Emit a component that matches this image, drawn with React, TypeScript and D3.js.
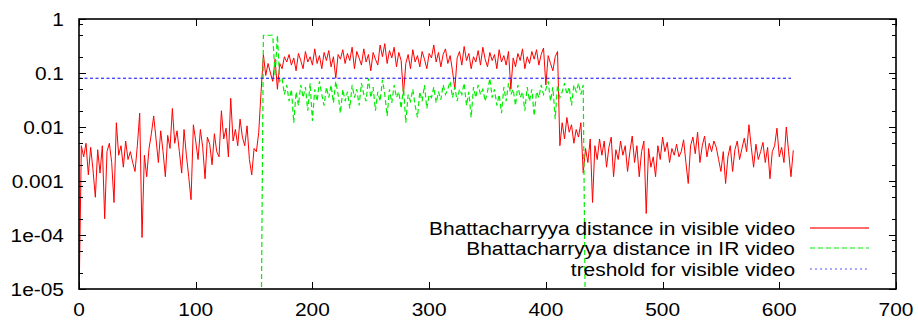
import React, { useEffect, useRef } from "react";
import * as d3 from "d3";

// Bhattacharyya distance per frame (sampled every 2 frames)
const redStep = 2;
const redValues = [
  0.000005, 0.0045, 0.0028, 0.005, 0.0013, 0.0042, 0.0016, 0.0005, 0.0038, 0.0014,
  0.0045, 0.0002, 0.0035, 0.005, 0.0022, 0.0004, 0.012, 0.003, 0.0045, 0.0018,
  0.0055, 0.0025, 0.0035, 0.0022, 0.0015, 0.0045, 0.018, 0.00009, 0.003, 0.0012,
  0.004, 0.0075, 0.016, 0.006, 0.0022, 0.0085, 0.0035, 0.0012, 0.007, 0.004,
  0.022, 0.005, 0.0085, 0.0035, 0.0014, 0.009, 0.003, 0.0012, 0.00045, 0.011,
  0.0055, 0.0025, 0.009, 0.0042, 0.0011, 0.0065, 0.0048, 0.002, 0.0075, 0.0035,
  0.0028, 0.02, 0.006, 0.0095, 0.0028, 0.034, 0.0055, 0.009, 0.0045, 0.014,
  0.0065, 0.0045, 0.0105, 0.0025, 0.0013, 0.004, 0.0035, 0.008, 0.045, 0.22,
  0.09, 0.15, 0.1, 0.07, 0.18, 0.05, 0.15, 0.12, 0.2, 0.16,
  0.22, 0.14, 0.19, 0.11, 0.23, 0.17, 0.12, 0.25, 0.16, 0.2,
  0.14, 0.28, 0.15, 0.21, 0.12, 0.24, 0.17, 0.26, 0.13, 0.2,
  0.08, 0.22, 0.18, 0.27, 0.15, 0.23, 0.17, 0.3, 0.12, 0.25,
  0.19, 0.14, 0.28, 0.16, 0.22, 0.11, 0.24, 0.18, 0.14, 0.33,
  0.2, 0.35, 0.15, 0.26, 0.19, 0.3, 0.13, 0.24, 0.17, 0.04,
  0.15, 0.22, 0.12, 0.27, 0.16, 0.21, 0.13, 0.25, 0.18, 0.12,
  0.23, 0.19, 0.33, 0.16, 0.24, 0.13, 0.22, 0.28, 0.15, 0.21,
  0.11, 0.05, 0.19, 0.25, 0.14, 0.31, 0.17, 0.23, 0.12, 0.2,
  0.16, 0.26, 0.14, 0.3, 0.18, 0.13, 0.24, 0.17, 0.22, 0.12,
  0.27, 0.16, 0.21, 0.14, 0.25, 0.05, 0.19, 0.13, 0.23, 0.17,
  0.28, 0.12, 0.2, 0.15, 0.25, 0.18, 0.27, 0.14, 0.22, 0.29,
  0.06, 0.21, 0.15, 0.11, 0.2, 0.25, 0.0045, 0.012, 0.006, 0.015,
  0.008, 0.011, 0.005, 0.009, 0.0065, 0.012, 0.0014, 0.004, 0.0022, 0.006,
  0.0004, 0.0045, 0.0025, 0.006, 0.003, 0.0055, 0.0018, 0.0042, 0.0065, 0.0012,
  0.0038, 0.0025, 0.0055, 0.003, 0.0045, 0.0015, 0.0035, 0.0068, 0.0022, 0.0045,
  0.0012, 0.0035, 0.0055, 0.00025, 0.004, 0.0018, 0.0028, 0.0012, 0.0045, 0.0025,
  0.0065, 0.0035, 0.0052, 0.0022, 0.004, 0.003, 0.0048, 0.0028, 0.0035, 0.0058,
  0.0022, 0.0009, 0.0045, 0.0065, 0.0032, 0.008, 0.0022, 0.0045, 0.0068, 0.0028,
  0.005, 0.0035, 0.0055, 0.0042, 0.0025, 0.0015, 0.0035, 0.0009, 0.0028, 0.0045,
  0.0015, 0.0038, 0.0055, 0.0025, 0.004, 0.0062, 0.0035, 0.011, 0.0042, 0.0018,
  0.0048, 0.0025, 0.0035, 0.0052, 0.0022, 0.0042, 0.0011, 0.0035, 0.0045, 0.0095,
  0.0028, 0.0042, 0.0022, 0.01, 0.0035, 0.0012, 0.0037,
];

// IR video, starts at frame 156
const greenStart = 156;
const greenStep = 2;
const greenValues = [
  0.000001, 0.5, 0.5, 0.5, 0.5, 0.5, 0.09, 0.5, 0.07, 0.08,
  0.04, 0.06, 0.03, 0.05, 0.012, 0.045, 0.025, 0.06, 0.035, 0.055,
  0.02, 0.065, 0.013, 0.05, 0.03, 0.07, 0.04, 0.025, 0.055, 0.035,
  0.06, 0.028, 0.07, 0.04, 0.018, 0.05, 0.03, 0.045, 0.022, 0.06,
  0.035, 0.05, 0.025, 0.065, 0.04, 0.03, 0.08, 0.035, 0.055, 0.02,
  0.045, 0.03, 0.075, 0.04, 0.016, 0.05, 0.028, 0.06, 0.035, 0.045,
  0.022, 0.055, 0.012, 0.04, 0.03, 0.05, 0.025, 0.015, 0.045, 0.03,
  0.06, 0.022, 0.04, 0.035, 0.055, 0.028, 0.045, 0.032, 0.06, 0.04,
  0.05, 0.07, 0.035, 0.055, 0.03, 0.05, 0.04, 0.065, 0.025, 0.045,
  0.015, 0.055, 0.035, 0.06, 0.04, 0.05, 0.03, 0.045, 0.08, 0.035,
  0.05, 0.025, 0.04, 0.018, 0.055, 0.03, 0.065, 0.04, 0.05, 0.025,
  0.06, 0.035, 0.045, 0.02, 0.055, 0.03, 0.05, 0.016, 0.045, 0.035,
  0.06, 0.04, 0.05, 0.07, 0.03, 0.055, 0.014, 0.06, 0.035, 0.045,
  0.065, 0.04, 0.055, 0.025, 0.06, 0.045, 0.065, 0.04, 0.06, 0.000001,
];

const thresholdValue = 0.08;
const thresholdFrames = [0, 610];

const xTicks = [0, 100, 200, 300, 400, 500, 600, 700];
const yTicks = [1, 0.1, 0.01, 0.001, 1e-4, 1e-5];
const yTickLabels = ["1", "0.1", "0.01", "0.001", "1e-04", "1e-05"];
const minorFactors = [2, 5, 8];

const legendLabels = [
  "Bhattacharryya distance in visible video",
  "Bhattacharryya distance in IR video",
  "treshold for visible video",
];

const colors = { red: "#ff0000", green: "#00ee00", blue: "#0000ff" };
const FONT = "'Liberation Sans', Arial, Helvetica, sans-serif";

export default function App() {
  const svgRef = useRef<SVGSVGElement | null>(null);

  useEffect(() => {
    if (!svgRef.current) return;
    const W = 918,
      H = 320;
    const left = 79,
      right = 896,
      top = 19,
      bottom = 289;

    const svg = d3.select(svgRef.current);
    svg.selectAll("*").remove();
    svg.attr("width", W).attr("height", H);

    const x = d3.scaleLinear().domain([0, 700]).range([left, right]);
    const y = d3.scaleLog().domain([1e-5, 1]).range([bottom, top]);

    svg
      .append("defs")
      .append("clipPath")
      .attr("id", "plot-clip")
      .append("rect")
      .attr("x", left)
      .attr("y", top)
      .attr("width", right - left)
      .attr("height", bottom - top);

    const line = d3
      .line<[number, number]>()
      .x((d) => x(d[0]))
      .y((d) => y(d[1]));

    const redData: [number, number][] = redValues.map((v, i) => [i * redStep, v]);
    const greenData: [number, number][] = greenValues.map((v, i) => [
      greenStart + i * greenStep,
      v,
    ]);
    const blueData: [number, number][] = thresholdFrames.map((f) => [f, thresholdValue]);

    const plot = svg.append("g").attr("clip-path", "url(#plot-clip)");

    plot
      .append("path")
      .attr("d", line(redData))
      .attr("fill", "none")
      .attr("stroke", colors.red)
      .attr("stroke-width", 1);

    plot
      .append("path")
      .attr("d", line(greenData))
      .attr("fill", "none")
      .attr("stroke", colors.green)
      .attr("stroke-width", 1.2)
      .attr("stroke-dasharray", "5,3");

    plot
      .append("path")
      .attr("d", line(blueData))
      .attr("fill", "none")
      .attr("stroke", colors.blue)
      .attr("stroke-width", 1)
      .attr("stroke-dasharray", "3,2.5");

    // ticks (gnuplot style, inward and mirrored)
    const axes = svg.append("g").attr("stroke", "#000").attr("stroke-width", 1);
    xTicks.forEach((t) => {
      const px = Math.round(x(t)) + 0.5;
      axes.append("line").attr("x1", px).attr("x2", px).attr("y1", bottom).attr("y2", bottom - 7);
      axes.append("line").attr("x1", px).attr("x2", px).attr("y1", top).attr("y2", top + 7);
    });
    yTicks.forEach((t) => {
      const py = Math.round(y(t)) + 0.5;
      axes.append("line").attr("x1", left).attr("x2", left + 7).attr("y1", py).attr("y2", py);
      axes.append("line").attr("x1", right).attr("x2", right - 7).attr("y1", py).attr("y2", py);
    });
    yTicks.slice(1).forEach((t) => {
      minorFactors.forEach((m) => {
        const py = Math.round(y(t * m)) + 0.5;
        axes.append("line").attr("x1", left).attr("x2", left + 4).attr("y1", py).attr("y2", py);
        axes.append("line").attr("x1", right).attr("x2", right - 4).attr("y1", py).attr("y2", py);
      });
    });

    svg
      .append("rect")
      .attr("x", left)
      .attr("y", top)
      .attr("width", right - left)
      .attr("height", bottom - top)
      .attr("fill", "none")
      .attr("stroke", "#000")
      .attr("stroke-width", 1.6);

    const addText = (tx: number, ty: number, str: string, anchor: string) =>
      svg
        .append("text")
        .attr("transform", `translate(${tx},${ty}) scale(1.1,1)`)
        .attr("text-anchor", anchor)
        .attr("font-family", FONT)
        .attr("font-size", 19)
        .attr("fill", "#000")
        .text(str);

    xTicks.forEach((t) => addText(x(t), 316, String(t), "middle"));
    yTicks.forEach((t, i) => addText(64, y(t) + 7, yTickLabels[i], "end"));

    // legend
    const legendRows = [228, 248, 269];
    const legendStyles = [
      { stroke: "#ff6a6a", width: 2, dash: null },
      { stroke: colors.green, width: 1.2, dash: "5,3" },
      { stroke: "#5555ff", width: 1.2, dash: "2,3" },
    ];
    legendLabels.forEach((label, i) => {
      addText(795, legendRows[i] + 7, label, "end");
      const s = legendStyles[i];
      const l = svg
        .append("line")
        .attr("x1", 810)
        .attr("x2", 869)
        .attr("y1", legendRows[i])
        .attr("y2", legendRows[i])
        .attr("stroke", s.stroke)
        .attr("stroke-width", s.width);
      if (s.dash) l.attr("stroke-dasharray", s.dash);
    });
  }, []);

  return (
    <div style={{ position: "absolute", left: 0, top: 0, background: "#fff" }}>
      <svg ref={svgRef} style={{ display: "block" }}></svg>
    </div>
  );
}
